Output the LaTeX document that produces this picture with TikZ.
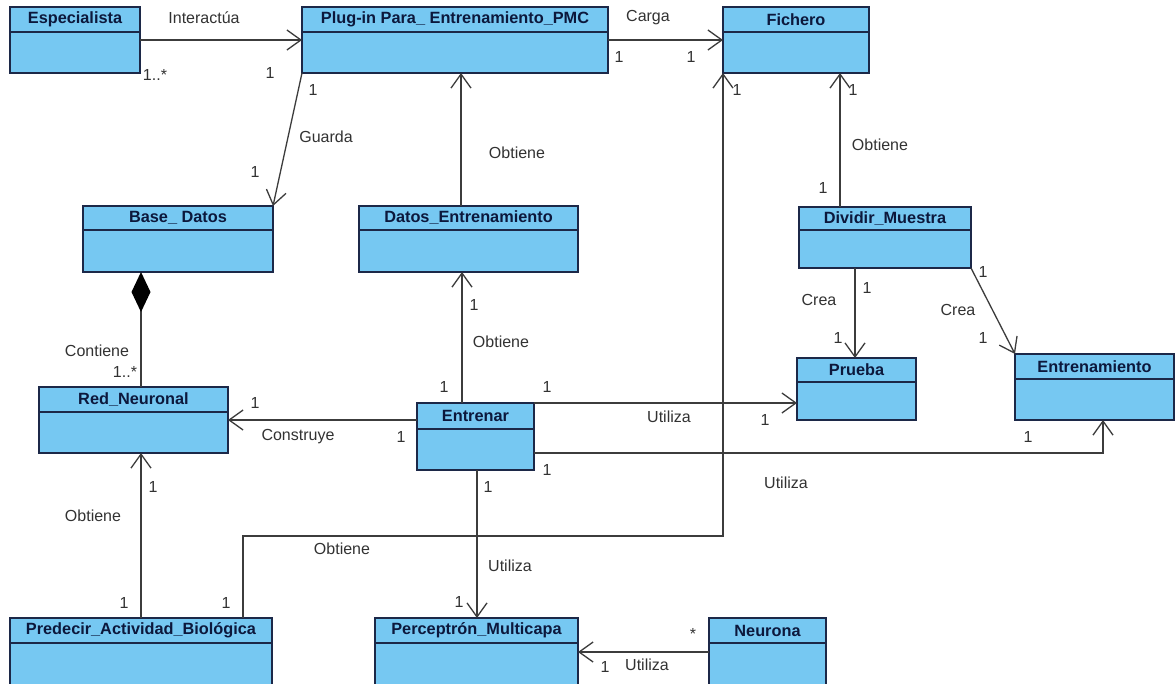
\documentclass[tikz,border=0pt]{standalone}
\usepackage{fontspec}
\setmainfont{Liberation Sans}
\usetikzlibrary{arrows.meta,calc}

\definecolor{classfill}{RGB}{118,200,242}
\definecolor{classedge}{RGB}{28,40,72}
\definecolor{titlecol}{RGB}{12,24,60}
\definecolor{linecol}{RGB}{60,60,60}
\definecolor{labelcol}{RGB}{50,50,50}

% class box: name, left, top, width, height, header height, title
\newcommand\drawclass[7]{%
  \node[classbox, minimum width=#4pt, minimum height=#5pt, anchor=north west] (#1) at (#2,#3) {};
  \draw[classline] ([yshift=-#6pt]#1.north west) -- ([yshift=-#6pt]#1.north east);
  \node[classtitle] (#1-t) at ([yshift={-0.5*#6pt}]#1.north) {#7};
}

\begin{document}
\begin{tikzpicture}[x=1pt,y=-1pt,
  classbox/.style={draw=classedge, fill=classfill, line width=1.4pt, inner sep=0pt, outer sep=0pt},
  classline/.style={draw=classedge, line width=1.4pt},
  classtitle/.style={font=\bfseries\fontsize{16.3}{18}\selectfont, text=titlecol, inner sep=0pt},
  lbl/.style={font=\fontsize{16}{18}\selectfont, text=labelcol, inner sep=0pt},
  assoc/.style={draw=linecol, line width=1.3pt, -{Straight Barb[length=14pt,width=20pt]}},
  comp/.style={draw=linecol, line width=1.3pt, {Diamond[length=40pt,width=19pt,fill=black,color=black]}-}
]
\useasboundingbox (0,0) rectangle (1175,683);
\clip (0,0) rectangle (1175,683);
\fill[white] (0,0) rectangle (1175,683);

% classes
\drawclass{esp}{10}{7}{130}{66}{25}{Especialista}
\drawclass{plug}{302}{7}{306}{66}{25}{Plug-in Para\_ Entrenamiento\_PMC}
\drawclass{fich}{723}{7}{146}{66}{25}{Fichero}
\drawclass{base}{83}{206}{190}{66}{24}{Base\_ Datos}
\drawclass{datos}{359}{206}{219}{66}{24}{Datos\_Entrenamiento}
\drawclass{divid}{799}{207}{172}{61}{23}{Dividir\_Muestra}
\drawclass{red}{39}{387}{189}{66}{25}{Red\_Neuronal}
\drawclass{entr}{417}{403}{117}{67}{26}{Entrenar}
\drawclass{prueba}{797}{358}{119}{62}{24}{Prueba}
\drawclass{entm}{1015}{354}{159}{66}{25}{Entrenamiento}
\drawclass{pred}{10}{618}{262}{80}{25}{Predecir\_Actividad\_Biológica}
\drawclass{perc}{375}{618}{203}{80}{25}{Perceptrón\_Multicapa}
\drawclass{neur}{709}{618}{117}{80}{25}{Neurona}

% associations
\draw[assoc] (esp.east) -- (plug.west);
\draw[assoc] (plug.east) -- (fich.west);
\draw[assoc] (plug.south west) -- (base.north east);
\draw[assoc] ([xshift=-7.5pt]datos.north) -- ([xshift=-7.5pt]datos.north |- plug.south);
\draw[assoc] ([xshift=-45pt]divid.north) -- ([xshift=-45pt]divid.north |- fich.south);
\draw[comp] ([xshift=-37pt]base.south) -- ([xshift=-37pt]base.south |- red.north);
\draw[assoc] (entr.west |- red.east) -- (red.east);
\draw[assoc] ([xshift=-13.5pt]entr.north) -- ([xshift=-13.5pt]entr.north |- datos.south);
\draw[assoc] (entr.north east) -- (entr.north east -| prueba.west);
\draw[assoc] ([yshift=-50pt]entr.north east) -| ([xshift=8.5pt]entm.south);
\draw[assoc] ([xshift=-1.5pt]prueba.north |- divid.south) -- ([xshift=-1.5pt]prueba.north);
\draw[assoc] (divid.south east) -- (entm.north west);
\draw[assoc] (pred.north) -- (pred.north |- red.south);
\draw[assoc] ([xshift=102pt]pred.north) -- ++(0,-82) -| (fich.south west);
\draw[assoc] ([xshift=0.5pt]perc.north |- entr.south) -- ([xshift=0.5pt]perc.north);
\draw[assoc] ([yshift=-34pt]neur.north west) -- ([yshift=-34pt]neur.north west -| perc.east);

% association names and multiplicities
\node[lbl] (l1) at (204,18) {Interactúa};
\node[lbl] (l2) at (155,75) {1..*};
\node[lbl] (l3) at (270,73) {1};
\node[lbl] (l4) at (648,18) {Carga};
\node[lbl] (l5) at (619,57) {1};
\node[lbl] (l6) at (691,57) {1};
\node[lbl] (l7) at (313,90) {1};
\node[lbl] (l8) at (326,137) {Guarda};
\node[lbl] (l9) at (255,172) {1};
\node[lbl] (l10) at (517,153) {Obtiene};
\node[lbl] (l11) at (853,90) {1};
\node[lbl] (l12) at (880,145) {Obtiene};
\node[lbl] (l13) at (823,188) {1};
\node[lbl] (l14) at (97,351) {Contiene};
\node[lbl] (l15) at (125,372) {1..*};
\node[lbl] (l16) at (255,403) {1};
\node[lbl] (l17) at (298,437) {Construye};
\node[lbl] (l18) at (401,437) {1};
\node[lbl] (l19) at (474,305) {1};
\node[lbl] (l20) at (501,342) {Obtiene};
\node[lbl] (l21) at (444,387) {1};
\node[lbl] (l22) at (547,387) {1};
\node[lbl] (l23) at (669,417) {Utiliza};
\node[lbl] (l24) at (765,420) {1};
\node[lbl] (l25) at (547,470) {1};
\node[lbl] (l26) at (786,483) {Utiliza};
\node[lbl] (l27) at (1028,437) {1};
\node[lbl] (l28) at (819,300) {Crea};
\node[lbl] (l29) at (867,288) {1};
\node[lbl] (l30) at (838,338) {1};
\node[lbl] (l31) at (983,272) {1};
\node[lbl] (l32) at (958,310) {Crea};
\node[lbl] (l33) at (983,338) {1};
\node[lbl] (l34) at (153,487) {1};
\node[lbl] (l35) at (93,516) {Obtiene};
\node[lbl] (l36) at (124,603) {1};
\node[lbl] (l37) at (737,90) {1};
\node[lbl] (l38) at (342,549) {Obtiene};
\node[lbl] (l39) at (226,603) {1};
\node[lbl] (l40) at (488,487) {1};
\node[lbl] (l41) at (510,566) {Utiliza};
\node[lbl] (l42) at (459,602) {1};
\node[lbl] (l43) at (693,634) {*};
\node[lbl] (l44) at (647,665) {Utiliza};
\node[lbl] (l45) at (605,667) {1};
\end{tikzpicture}
\end{document}
